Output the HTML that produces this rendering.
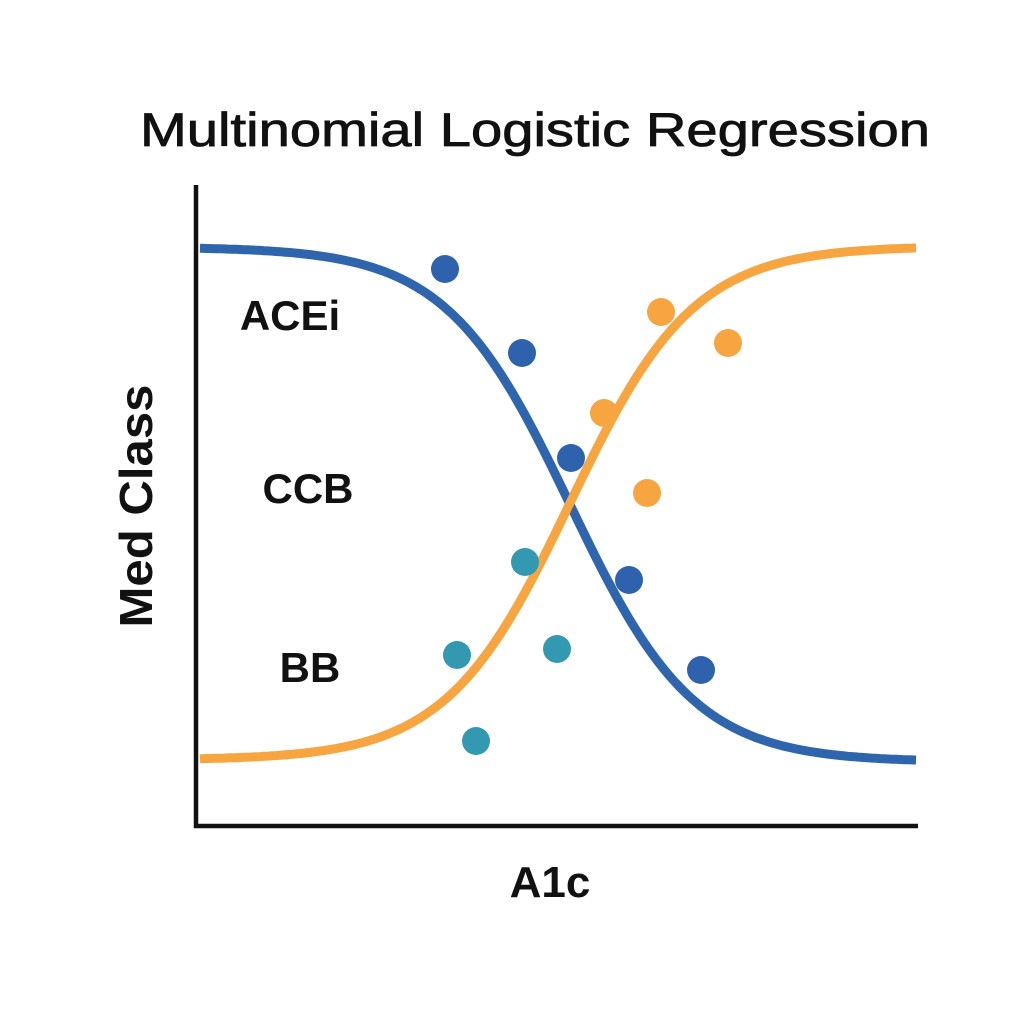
<!DOCTYPE html>
<html><head><meta charset="utf-8"><style>
html,body{margin:0;padding:0;background:#fff;}
svg{display:block;}
text{font-family:"Liberation Sans",sans-serif;fill:#111;}
</style></head><body>
<svg id="s" width="1024" height="1024" viewBox="0 0 1024 1024" xmlns="http://www.w3.org/2000/svg">
<rect width="1024" height="1024" fill="#fff"/>
<text x="535" y="146" font-size="47" text-anchor="middle" stroke="#111" stroke-width="0.8" textLength="790" lengthAdjust="spacingAndGlyphs">Multinomial Logistic Regression</text>
<path id="blue" fill="none" stroke="#2f65ad" stroke-width="9" d=""/>
<path id="orange" fill="none" stroke="#f7a541" stroke-width="9" d=""/>
<line x1="196" y1="185" x2="196" y2="828" stroke="#111" stroke-width="4.5"/>
<line x1="194" y1="826" x2="918" y2="826" stroke="#111" stroke-width="4.5"/>
<g fill="#2f62ad">
<circle cx="445" cy="269" r="14"/><circle cx="522" cy="353" r="14"/><circle cx="571" cy="458" r="14"/><circle cx="629" cy="580" r="14"/><circle cx="701" cy="670" r="14"/>
</g>
<g fill="#f7a541">
<circle cx="661" cy="312" r="14"/><circle cx="728" cy="343" r="14"/><circle cx="604" cy="413" r="14"/><circle cx="647" cy="493" r="14"/>
</g>
<g fill="#3399b0">
<circle cx="525" cy="562" r="14"/><circle cx="457" cy="655" r="14"/><circle cx="557" cy="649" r="14"/><circle cx="476" cy="741" r="14"/>
</g>
<text x="290" y="330" font-size="42" font-weight="bold" text-anchor="middle">ACEi</text>
<text x="308" y="503" font-size="42" font-weight="bold" text-anchor="middle">CCB</text>
<text x="310" y="682" font-size="42" font-weight="bold" text-anchor="middle">BB</text>
<text transform="translate(152,506) rotate(-90)" font-size="46" font-weight="bold" text-anchor="middle" textLength="243" lengthAdjust="spacingAndGlyphs">Med Class</text>
<text x="550" y="897" font-size="44" font-weight="bold" text-anchor="middle">A1c</text>
</svg>
<script>
function p(sign){var d="";for(var x=200;x<=918;x+=4){var f=1/(1+Math.exp(-(x-570)/62));var y=sign>0?247+(762-247)*f:760-(760-246)*f;d+=(x==200?"M":"L")+x+" "+y.toFixed(1)+" ";}return d;}
document.getElementById("blue").setAttribute("d",p(1));
document.getElementById("orange").setAttribute("d",p(-1));
</script>
</body></html>
